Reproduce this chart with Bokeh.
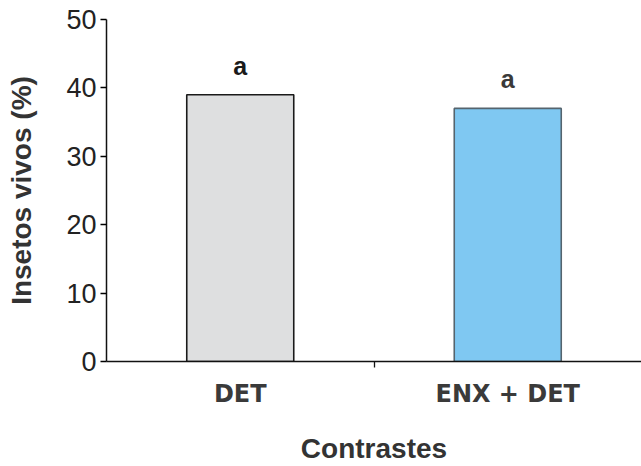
from bokeh.plotting import figure
from bokeh.models import Range1d, FixedTicker, ColumnDataSource
from bokeh.core.properties import value
from bokeh.embed import file_html
from bokeh.resources import INLINE

# Data: percentage of live insects per treatment contrast
categories = ["DET", "ENX + DET"]
live_pct = [39, 37]
letters = ["a", "a"]
y_ticks = [0, 10, 20, 30, 40, 50]

bar_fills = ["#dedfe0", "#7fc8f2"]
bar_lines = ["#1a1a1a", "#55646e"]
letter_colors = ["#1a1a1a", "#3a3a3a"]

positions = list(range(len(categories)))

source = ColumnDataSource(dict(
    x=positions, top=live_pct, label=letters,
    fill=bar_fills, line=bar_lines, tcolor=letter_colors,
))

p = figure(
    width=641, height=466,
    x_range=Range1d(-0.5, len(categories) - 0.5),
    y_range=Range1d(y_ticks[0], y_ticks[-1]),
    output_backend="svg", toolbar_location=None,
    min_border_left=106, min_border_right=0,
    min_border_top=19, min_border_bottom=104,
)
p.outline_line_color = None
p.xgrid.visible = False
p.ygrid.visible = False
p.background_fill_color = "white"
p.border_fill_color = "white"

p.vbar(x="x", top="top", width=0.4, source=source,
       fill_color="fill", line_color="line", line_width=1.6)

p.text(x="x", y="top", text="label", source=source,
       text_align="center", text_baseline="alphabetic", y_offset=-29,
       text_font=value("Liberation Sans"), text_font_style="bold",
       text_font_size="25px", text_color="tcolor")

# y axis
ya = p.yaxis[0]
ya.ticker = FixedTicker(ticks=y_ticks)
ya.axis_label = "Insetos vivos (%)"
ya.axis_label_text_font = "Liberation Sans"
ya.axis_label_text_font_style = "bold"
ya.axis_label_text_font_size = "28px"
ya.axis_label_text_color = "#333333"
ya.axis_label_standoff = 26
ya.major_label_text_font = "Liberation Sans"
ya.major_label_text_font_size = "27px"
ya.major_label_text_color = "#222222"
ya.major_label_standoff = 4
ya.major_tick_out = 6
ya.major_tick_in = 0
ya.minor_tick_line_color = None
ya.axis_line_width = 1.5
ya.axis_line_color = "#111111"
ya.major_tick_line_width = 1.3

# x axis: category names, one divider tick between categories
xa = p.xaxis[0]
xa.ticker = FixedTicker(ticks=positions,
                        minor_ticks=[i + 0.5 for i in positions[:-1]])
xa.major_label_overrides = {i: c for i, c in zip(positions, categories)}
xa.major_tick_line_color = None
xa.major_tick_out = 0
xa.major_tick_in = 0
xa.minor_tick_out = 6
xa.minor_tick_in = 0
xa.minor_tick_line_color = "#111111"
xa.minor_tick_line_width = 1.3
xa.axis_line_width = 1.5
xa.axis_line_color = "#111111"
xa.major_label_text_font = "DejaVu Sans"
xa.major_label_text_font_style = "bold"
xa.major_label_text_font_size = "24px"
xa.major_label_text_color = "#3a3a3a"
xa.major_label_standoff = 12
xa.axis_label = "Contrastes"
xa.axis_label_text_font = "Liberation Sans"
xa.axis_label_text_font_style = "bold"
xa.axis_label_text_font_size = "28px"
xa.axis_label_text_color = "#333333"
xa.axis_label_standoff = 22

open("out.html", "w").write(file_html(p, INLINE))
